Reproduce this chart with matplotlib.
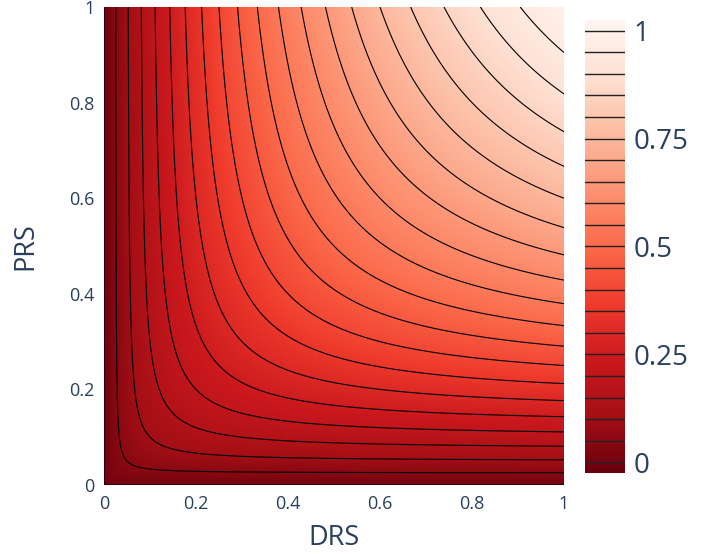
import numpy as np
import matplotlib
matplotlib.use("Agg")
import matplotlib.pyplot as plt
from matplotlib.colors import LinearSegmentedColormap, Normalize
from matplotlib.cm import ScalarMappable

# Data: harmonic mean of DRS and PRS on a grid
drs = np.linspace(0, 1, 201)
prs = np.linspace(0, 1, 201)
X, Y = np.meshgrid(drs, prs)
S = X + Y
Z = np.divide(2 * X * Y, S, out=np.zeros_like(S), where=S > 0)

levels = np.round(np.arange(0, 1.0001, 0.05), 2)
xticks = [0, 0.2, 0.4, 0.6, 0.8, 1]
yticks = [0, 0.2, 0.4, 0.6, 0.8, 1]
cbar_ticks = [0, 0.25, 0.5, 0.75, 1]

reds = ['rgb(255,245,240)', 'rgb(254,224,210)', 'rgb(252,187,161)', 'rgb(252,146,114)',
        'rgb(251,106,74)', 'rgb(239,59,44)', 'rgb(203,24,29)', 'rgb(165,15,21)', 'rgb(103,0,13)']
cols = []
for c in reds[::-1]:
    r, g, b = [int(v) / 255 for v in c[4:-1].split(',')]
    cols.append((r, g, b))
cmap = LinearSegmentedColormap.from_list("reds_r", cols)
norm = Normalize(vmin=-0.025, vmax=1.025)

plt.rcParams['font.family'] = ['Open Sans', 'DejaVu Sans']
txt = '#2a3f5f'

W, H = 701, 554
fig = plt.figure(figsize=(W / 100, H / 100), dpi=100)
ax = fig.add_axes([104 / W, (H - 485) / H, 460 / W, 478 / H])
ax.pcolormesh(X, Y, Z, cmap=cmap, norm=norm, shading='gouraud', rasterized=True)
ax.contour(X, Y, Z, levels=levels, colors='black', linewidths=0.8)
ax.set_xlim(0, 1)
ax.set_ylim(0, 1)
for s in ax.spines.values():
    s.set_visible(False)
ax.set_xticks(xticks)
ax.set_yticks(yticks)
ax.set_xticklabels([f"{t:g}" for t in xticks])
ax.set_yticklabels([f"{t:g}" for t in yticks])
ax.tick_params(length=0, labelsize=13, labelcolor=txt, pad=7)
ax.set_xlabel("DRS", fontsize=19.5, color=txt, labelpad=8)
ax.set_ylabel("PRS", fontsize=19.5, color=txt, labelpad=21)

cax = fig.add_axes([585 / W, (H - 473) / H, 40 / W, 453 / H])
sm = ScalarMappable(norm=norm, cmap=cmap)
cb = fig.colorbar(sm, cax=cax, ticks=cbar_ticks)
cb.outline.set_visible(False)
cb.ax.set_yticklabels([f"{t:g}" for t in cbar_ticks])
cb.ax.tick_params(length=0, labelsize=20, labelcolor=txt, pad=6)
for lv in levels:
    cb.ax.axhline(lv, color='#222222', lw=1.0, xmin=0, xmax=1)

fig.savefig("out.png", dpi=100)
